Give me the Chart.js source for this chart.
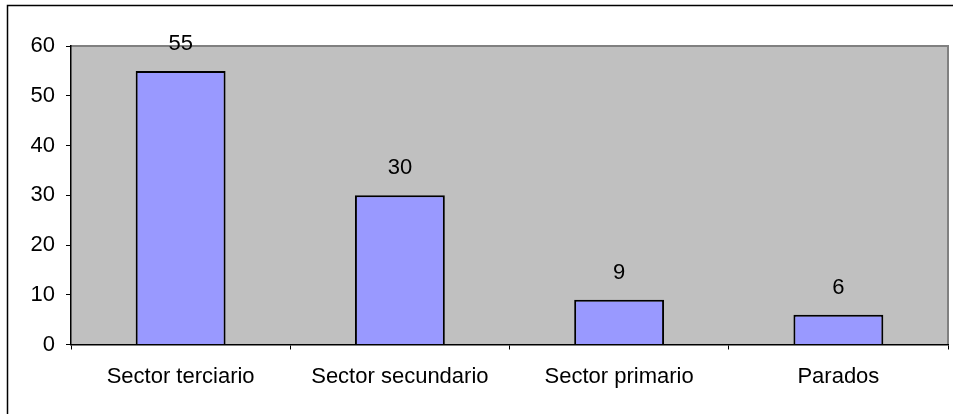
<!DOCTYPE html>
<html>
<head>
<meta charset="utf-8">
<script src="https://cdn.jsdelivr.net/npm/chart.js@4"></script>
<style>
  html, body { margin: 0; padding: 0; background: #fff; }
  #wrap { width: 953px; height: 414px; }
</style>
</head>
<body>
<div id="wrap"><canvas id="sectorChart"></canvas></div>
<script>
'use strict';

const categories = ['Sector terciario', 'Sector secundario', 'Sector primario', 'Parados'];
const values = [55, 30, 9, 6];
const yTicks = [0, 10, 20, 30, 40, 50, 60];

const FONT = "'Liberation Sans', Arial, sans-serif";
Chart.defaults.font.family = FONT;
Chart.defaults.font.size = 22;
Chart.defaults.color = '#000';

// gray plot area + outer frame, Excel style
const plotBackground = {
  id: 'plotBackground',
  beforeDraw(chart) {
    const { ctx, chartArea: a } = chart;
    ctx.save();
    ctx.fillStyle = '#C0C0C0';
    ctx.fillRect(a.left, a.top, a.right - a.left, a.bottom - a.top);
    ctx.strokeStyle = '#808080';
    ctx.lineWidth = 2;
    ctx.beginPath();
    ctx.moveTo(a.left, a.top);
    ctx.lineTo(a.right, a.top);
    ctx.lineTo(a.right, a.bottom);
    ctx.stroke();
    // outer chart border
    ctx.strokeStyle = '#000';
    ctx.lineWidth = 1.5;
    ctx.beginPath();
    ctx.moveTo(7.5, chart.height + 2);
    ctx.lineTo(7.5, 5.5);
    ctx.lineTo(chart.width + 2, 5.5);
    ctx.stroke();
    ctx.restore();
  }
};

const barLabels = {
  id: 'barLabels',
  afterDatasetsDraw(chart) {
    const { ctx } = chart;
    const meta = chart.getDatasetMeta(0);
    ctx.save();
    ctx.font = '22px ' + FONT;
    ctx.fillStyle = '#000';
    ctx.textAlign = 'center';
    ctx.textBaseline = 'middle';
    meta.data.forEach((bar, i) => {
      ctx.fillText(String(values[i]), bar.x, bar.y - 27);
    });
    ctx.restore();
  }
};

new Chart(document.getElementById('sectorChart').getContext('2d'), {
  type: 'bar',
  data: {
    labels: categories,
    datasets: [{
      data: values,
      backgroundColor: '#9999FF',
      borderColor: '#000',
      borderWidth: 2,
      categoryPercentage: 1,
      barPercentage: 0.41,
    }]
  },
  options: {
    responsive: true,
    maintainAspectRatio: false,
    animation: false,
    layout: { padding: { left: 0, top: 46, right: 5, bottom: 0 } },
    plugins: {
      legend: { display: false },
      tooltip: { enabled: false },
    },
    scales: {
      x: {
        grid: { drawOnChartArea: false, color: '#000', tickLength: 5, offset: true },
        border: { color: '#000', width: 1.5 },
        ticks: { padding: 14, maxRotation: 0 },
        afterFit: (scale) => { scale.height = 69.5; },
      },
      y: {
        min: 0,
        max: 60,
        afterBuildTicks: (scale) => { scale.ticks = yTicks.map(v => ({ value: v })); },
        grid: { drawOnChartArea: false, color: '#000', tickLength: 5 },
        border: { color: '#000', width: 1.5 },
        ticks: { padding: 11 },
        afterFit: (scale) => { scale.width = 71; },
      }
    }
  },
  plugins: [plotBackground, barLabels]
});
</script>
</body>
</html>
